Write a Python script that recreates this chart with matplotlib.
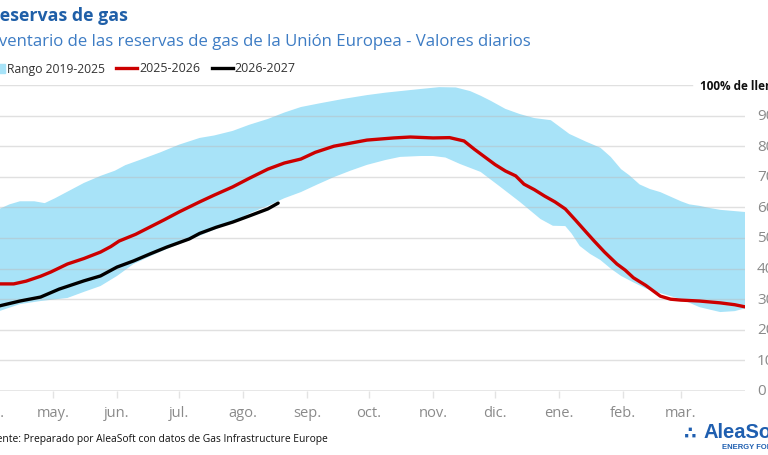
import numpy as np
import matplotlib
matplotlib.use("Agg")
import matplotlib.pyplot as plt
import matplotlib.transforms as mtransforms

# ── datos (días desde el 1 de abril) ─────────────────────────────────────────
MONTHS = ["abr.", "may.", "jun.", "jul.", "ago.", "sep.", "oct.",
          "nov.", "dic.", "ene.", "feb.", "mar."]
MONTH_START = [0, 30, 61, 91, 122, 153, 183, 214, 244, 275, 306, 334]
Y_TICKS = [0, 10, 20, 30, 40, 50, 60, 70, 80, 90]

# Rango 2019-2025: borde superior
hi_days = [0, 4, 9, 14, 21, 26, 31, 38, 45, 53, 60, 65, 72, 82, 91, 101, 108,
           117, 125, 134, 142, 150, 159, 171, 182, 191, 198, 208, 217, 225,
           232, 237, 242, 249, 256, 263, 271, 275, 280, 288, 295, 300, 305,
           309, 314, 319, 324, 329, 334, 338, 343, 348, 353, 365]
hi_vals = [59.0, 59.5, 61.0, 62.0, 62.0, 61.4, 63.0, 65.5, 68.0, 70.3, 72.0,
           73.8, 75.5, 78.0, 80.5, 82.7, 83.5, 85.0, 87.0, 88.9, 91.0, 92.8,
           94.0, 95.5, 96.7, 97.5, 98.0, 98.7, 99.3, 99.2, 98.0, 96.5, 94.8,
           92.2, 90.5, 89.2, 88.5, 86.5, 84.0, 81.5, 79.5, 76.5, 72.5, 70.5,
           67.5, 66.0, 65.0, 63.5, 62.0, 61.0, 60.5, 59.8, 59.2, 58.5]

# Rango 2019-2025: borde inferior
lo_days = [0, 4, 14, 24, 37, 45, 53, 61, 69, 77, 85, 94, 101, 109, 117, 125,
           134, 142, 150, 158, 166, 174, 182, 191, 198, 208, 214, 220, 227,
           237, 246, 256, 266, 272, 278, 281, 285, 290, 295, 300, 305, 311,
           317, 324, 334, 343, 353, 360, 365]
lo_vals = [25.5, 26.1, 28.4, 29.4, 30.4, 32.4, 34.3, 37.6, 41.5, 44.0, 46.4,
           48.8, 50.7, 53.0, 55.2, 58.0, 60.5, 63.0, 65.0, 67.5, 69.9, 72.0,
           73.9, 75.5, 76.5, 76.8, 76.8, 76.3, 74.2, 71.6, 67.0, 61.8, 56.2,
           54.0, 53.9, 51.5, 47.4, 44.8, 42.8, 40.0, 37.6, 35.5, 33.5, 32.0,
           30.0, 27.4, 25.8, 26.1, 27.0]

# 2025-2026
red_days = [0, 4, 11, 17, 24, 29, 37, 45, 53, 58, 62, 70, 77, 84, 91, 101,
            108, 117, 125, 134, 142, 150, 157, 166, 174, 182, 195, 203, 214,
            222, 229, 234, 239, 244, 249, 254, 258, 263, 268, 273, 278, 283,
            288, 292, 297, 303, 307, 311, 317, 324, 329, 334, 343, 353, 360,
            365]
red_vals = [35.0, 35.0, 35.0, 35.9, 37.5, 38.9, 41.5, 43.3, 45.4, 47.2, 49.0,
            51.2, 53.6, 56.0, 58.5, 61.8, 64.0, 66.7, 69.5, 72.5, 74.5, 75.8,
            78.0, 80.0, 81.0, 82.0, 82.7, 83.0, 82.7, 82.8, 81.7, 79.0, 76.5,
            74.0, 71.9, 70.3, 67.6, 65.8, 63.7, 61.8, 59.5, 55.8, 52.0, 49.0,
            45.4, 41.5, 39.5, 37.0, 34.5, 31.0, 30.0, 29.7, 29.4, 28.8, 28.2,
            27.5]

# 2026-2027
black_days = [0, 4, 14, 24, 33, 45, 53, 61, 69, 77, 85, 96, 101, 109, 117,
              125, 134, 139]
black_vals = [27.5, 27.8, 29.4, 30.7, 33.3, 36.0, 37.6, 40.5, 42.5, 44.8,
              47.0, 49.7, 51.5, 53.5, 55.2, 57.2, 59.5, 61.4]

BLUE_FILL = "#a8e3f8"
RED = "#cc0000"
GRID = "#e3e3e3"
TICKTXT = "#8a8a8a"
LOGO = "#1f5fb0"

plt.rcParams["font.family"] = ["Open Sans", "DejaVu Sans"]

fig = plt.figure(figsize=(7.68, 4.56), dpi=100, facecolor="white")
ax = fig.add_axes([-9 / 768, (456 - 392) / 456, 754 / 768, 306 / 456])
ax.set_xlim(0, 365)
ax.set_ylim(0, 100)
ax.set_facecolor("none")

ax.fill(np.r_[hi_days, lo_days[::-1]], np.r_[hi_vals, lo_vals[::-1]],
        color=BLUE_FILL, lw=0, zorder=1)
ax.plot(red_days, red_vals, color=RED, lw=2.4, zorder=4,
        solid_capstyle="round")
ax.plot(black_days, black_vals, color="black", lw=2.4, zorder=5,
        solid_capstyle="round")

# líneas de rejilla (sobre el relleno)
for v in Y_TICKS[1:]:
    ax.axhline(v, color="#bbbbbb", lw=1, alpha=0.45, zorder=2)
ax.axhline(100, xmin=0, xmax=(692 + 9) / 754, color="#bbbbbb", lw=1,
           alpha=0.45, zorder=2)
ax.axhline(0, color=GRID, lw=1.2, zorder=2)

for s in ax.spines.values():
    s.set_visible(False)

ax.set_xticks(MONTH_START)
ax.set_xticklabels(MONTHS, color=TICKTXT, fontsize=10.5)
ax.tick_params(axis="x", length=5, color=GRID, width=1, pad=5)
ax.set_yticks([])

# etiquetas del eje y (a la derecha, parcialmente fuera de la imagen)
ylab_tr = mtransforms.blended_transform_factory(fig.transFigure, ax.transData)
for v in Y_TICKS:
    ax.text(757 / 768, v, str(v), transform=ylab_tr, ha="left",
            va="center", fontsize=11, color=TICKTXT, clip_on=False)
ax.text(700 / 768, 100, "100% de llenado", transform=ylab_tr, ha="left",
        va="center", fontsize=8.5, fontweight="bold", color="#111111",
        clip_on=False)

# títulos
fig.text(-12 / 768, 1 - 16 / 456, "Reservas de gas", fontsize=12.8,
         fontweight="bold", color="#1f5fa8", ha="left", va="center")
fig.text(-16 / 768, 1 - 42 / 456,
         "Inventario de las reservas de gas de la Unión Europea - Valores diarios",
         fontsize=12.1, color="#3d7cc4", ha="left", va="center")

# leyenda manual
ly = 1 - 69 / 456
fig.patches.append(plt.Rectangle((-4 / 768, ly - 5 / 456), 9 / 768, 9 / 456,
                                 transform=fig.transFigure, color=BLUE_FILL))
fig.text(7 / 768, ly, "Rango 2019-2025", fontsize=8.7, color="#333333",
         va="center", ha="left")
fig.add_artist(plt.Line2D([116 / 768, 137 / 768], [ly, ly], color=RED, lw=2.4,
                          transform=fig.transFigure))
fig.text(139 / 768, ly, "2025-2026", fontsize=8.9, color="#333333",
         va="center", ha="left")
fig.add_artist(plt.Line2D([212 / 768, 233 / 768], [ly, ly], color="black",
                          lw=2.4, transform=fig.transFigure))
fig.text(234 / 768, ly, "2026-2027", fontsize=8.9, color="#333333",
         va="center", ha="left")

# fuente
fig.text(-15 / 768, 1 - 440 / 456,
         "Fuente: Preparado por AleaSoft con datos de Gas Infrastructure Europe",
         fontsize=7.4, color="#111111", ha="left", va="center")

# logo
fig.text(684 / 768, 1 - 434 / 456, "\u2234", fontsize=13, color=LOGO,
         ha="left", va="center", fontweight="bold")
fig.text(703 / 768, 1 - 433 / 456, "AleaSoft", fontsize=14.5, color=LOGO,
         ha="left", va="center", fontweight="bold",
         family=["Liberation Sans", "DejaVu Sans"])
fig.text(722 / 768, 1 - 448 / 456, "ENERGY FORECASTING", fontsize=5.5,
         color=LOGO, ha="left", va="center", fontweight="bold",
         family=["Liberation Sans", "DejaVu Sans"])

fig.savefig("out.png", dpi=100, facecolor="white")
